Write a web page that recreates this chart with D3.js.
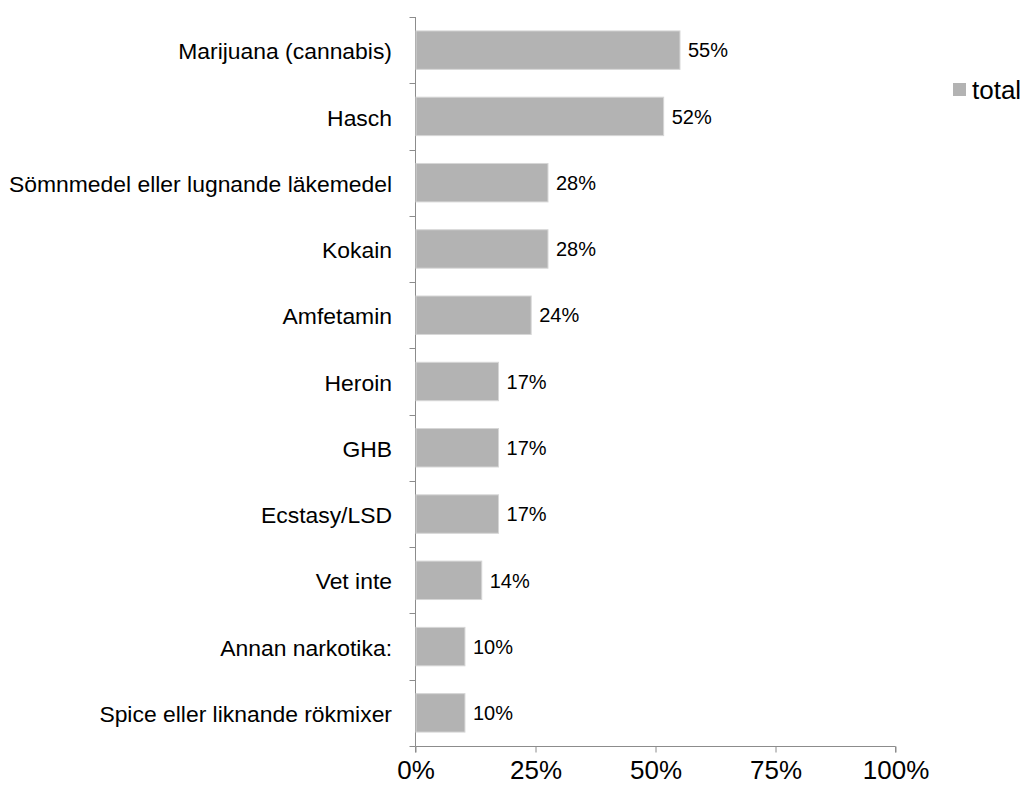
<!DOCTYPE html>
<html><head><meta charset="utf-8">
<script src="https://cdn.jsdelivr.net/npm/d3@7"></script>
<style>body{margin:0;background:#fff}svg{display:block}text{font-family:"Liberation Sans",Arial,sans-serif}</style>
</head><body>
<script>
const categories = ["Marijuana (cannabis)","Hasch","Sömnmedel eller lugnande läkemedel","Kokain","Amfetamin","Heroin","GHB","Ecstasy/LSD","Vet inte","Annan narkotika:","Spice eller liknande rökmixer"];
const values = [55.1, 51.7, 27.6, 27.6, 24.1, 17.3, 17.3, 17.3, 13.8, 10.3, 10.3];
const valueLabels = ["55%","52%","28%","28%","24%","17%","17%","17%","14%","10%","10%"];
const xTicks = [0, 25, 50, 75, 100];
const seriesName = "total";

const W = 1024, H = 790;
const svg = d3.select("body").append("svg").attr("width", W).attr("height", H);
const x = d3.scaleLinear().domain([0, 100]).range([415.5, 895.5]);
const y = d3.scaleBand().domain(categories).range([17, 746]).paddingInner(0.42).paddingOuter(0.21);

const axisColor = "#8c8c8c";
// y axis
svg.append("line").attr("x1", x(0)).attr("x2", x(0)).attr("y1", 17).attr("y2", 746).attr("stroke", axisColor);
d3.range(categories.length + 1).forEach(i => {
  const yy = Math.round(17 + i * (729 / categories.length)) + 0.5;
  svg.append("line").attr("x1", x(0) - 6).attr("x2", x(0)).attr("y1", yy).attr("y2", yy).attr("stroke", axisColor);
});
// x axis
const xAxis = svg.append("g").attr("transform", "translate(0,746.5)")
  .call(d3.axisBottom(x).tickValues(xTicks).tickSize(6).tickFormat(d => d + "%"));
xAxis.select(".domain").attr("stroke", axisColor).attr("d", `M${x(0)},6V0H${x(100)}V6`);
xAxis.selectAll(".tick line").attr("stroke", axisColor);
xAxis.selectAll(".tick text").attr("font-size", 26).attr("fill", "#000").attr("y", 14).attr("dy", "0.71em")
  .style("font-family", '"Liberation Sans",Arial,sans-serif');

// bars
svg.append("g").selectAll("rect").data(categories).join("rect")
  .attr("x", x(0) + 0.5).attr("y", d => y(d))
  .attr("width", (d, i) => x(values[i]) - x(0) - 0.5).attr("height", y.bandwidth())
  .attr("fill", "#b3b3b3").attr("stroke", "#d6d6d6").attr("stroke-width", 1);

// value labels
svg.append("g").selectAll("text").data(categories).join("text")
  .attr("x", (d, i) => x(values[i]) + 8).attr("y", d => y(d) + y.bandwidth() / 2)
  .attr("dy", "0.36em").attr("font-size", 20).attr("fill", "#000")
  .text((d, i) => valueLabels[i]);

// category labels
svg.append("g").selectAll("text").data(categories).join("text")
  .attr("x", 392).attr("y", d => y(d) + y.bandwidth() / 2)
  .attr("dy", "0.4em").attr("text-anchor", "end").attr("font-size", 22.9).attr("fill", "#000")
  .text(d => d);

// legend
svg.append("rect").attr("x", 953).attr("y", 83).attr("width", 13).attr("height", 13).attr("fill", "#b3b3b3");
svg.append("text").attr("x", 972).attr("y", 89.5).attr("dy", "0.36em").attr("font-size", 26).attr("fill", "#000").text(seriesName);
</script>
</body></html>
